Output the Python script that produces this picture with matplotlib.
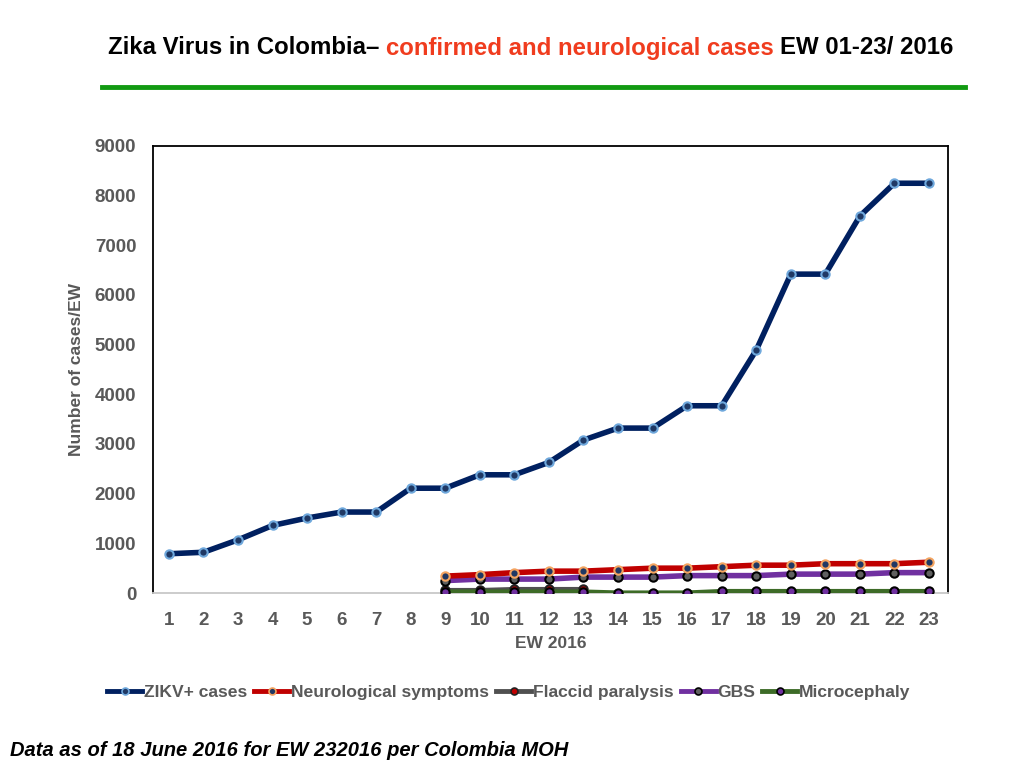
import matplotlib
matplotlib.use("Agg")
import matplotlib.pyplot as plt
from matplotlib.lines import Line2D

# semanas epidemiologicas
weeks = list(range(1, 24))
weeks_neuro = list(range(9, 24))
weeks_flaccid = list(range(9, 14))

zikv = [790, 820, 1070, 1360, 1510, 1630, 1630, 2110, 2110, 2380, 2380, 2630,
        3080, 3320, 3320, 3770, 3770, 4890, 6420, 6420, 7590, 8250, 8250]
neuro = [340, 370, 410, 440, 440, 470, 500, 500, 530, 560, 560, 590, 590, 590, 620]
gbs = [250, 280, 280, 280, 320, 320, 320, 350, 350, 350, 380, 380, 380, 410, 410]
flaccid = [60, 60, 80, 80, 80]
microcephaly = [30, 30, 30, 30, 30, 10, 10, 10, 40, 40, 40, 40, 40, 40, 40]

grey = '#595959'
plt.rcParams['font.family'] = ['Liberation Sans', 'DejaVu Sans']

fig = plt.figure(figsize=(10.24, 7.68), dpi=100)
ax = fig.add_axes([153 / 1024, 1 - 593 / 768, (948 - 153) / 1024, (593 - 146) / 768])

ax.plot(weeks_flaccid, flaccid, color='#505050', lw=3, marker='o', ms=6,
        mfc='#c00000', mec='#222222', mew=1.5, label='Flaccid paralysis', zorder=2)
ax.plot(weeks_neuro, microcephaly, color='#3d6b27', lw=3, marker='o', ms=6,
        mfc='#7030a0', mec='black', mew=1.5, label='Microcephaly', zorder=3)
ax.plot(weeks_neuro, gbs, color='#7030a0', lw=4, marker='o', ms=6,
        mfc='#606060', mec='black', mew=1.5, label='GBS', zorder=4)
ax.plot(weeks_neuro, neuro, color='#c00000', lw=4, marker='o', ms=6,
        mfc='#1f3864', mec='#f4a460', mew=1.5, label='Neurological symptoms', zorder=5)
ax.plot(weeks, zikv, color='#002060', lw=4, marker='o', ms=6,
        mfc='#1f3864', mec='#6fa8dc', mew=1.5, label='ZIKV+ cases', zorder=6)

ax.set_xlim(0.54, 23.55)
ax.set_ylim(0, 9000)
ax.set_xticks(weeks)
ax.set_yticks(range(0, 9001, 1000))
ax.tick_params(axis='y', length=0, labelsize=13.5, labelcolor=grey, pad=12)
ax.tick_params(axis='x', length=0, labelsize=13.5, labelcolor=grey, pad=14)
for lbl in ax.get_xticklabels() + ax.get_yticklabels():
    lbl.set_fontweight('bold')
for s in ['left', 'top', 'right']:
    ax.spines[s].set_color('black')
    ax.spines[s].set_linewidth(1.3)
ax.spines['bottom'].set_color('#c8c8c8')
ax.spines['bottom'].set_linewidth(1.3)

ax.set_xlabel('EW 2016', fontsize=12.5, color=grey, fontweight='bold', labelpad=5)
ax.set_ylabel('Number of cases/EW', fontsize=12.5, color=grey, fontweight='bold', labelpad=8)

# leyenda en el orden original
handles = []
legend_specs = [
    ('ZIKV+ cases', '#002060', '#1f3864', '#6fa8dc'),
    ('Neurological symptoms', '#c00000', '#1f3864', '#f4a460'),
    ('Flaccid paralysis', '#505050', '#c00000', '#222222'),
    ('GBS', '#7030a0', '#606060', 'black'),
    ('Microcephaly', '#3d6b27', '#7030a0', 'black'),
]
for name, lc, fc, ec in legend_specs:
    handles.append(Line2D([], [], color=lc, lw=3.5, marker='o', ms=5,
                          mfc=fc, mec=ec, mew=1.2, label=name))
fig.legend(handles=handles, loc='center', bbox_to_anchor=(509 / 1024, 1 - 692 / 768),
           ncol=5, frameon=False, handlelength=2.0, handletextpad=0.1,
           columnspacing=0.4, prop={'size': 12.6, 'weight': 'bold'},
           labelcolor=grey)

# titulo en tres partes
y_title = 1 - 48 / 768
tsize = 17.3
t1 = fig.text(108 / 1024, y_title, 'Zika Virus in Colombia\u2013 ', fontsize=tsize,
              fontweight='bold', color='black', va='center')
fig.canvas.draw()
bb = t1.get_window_extent()
t2 = fig.text(bb.x1 / 1024, y_title, 'confirmed and neurological cases ', fontsize=tsize,
              fontweight='bold', color='#f03c1e', va='center')
bb = t2.get_window_extent()
fig.text(bb.x1 / 1024, y_title, 'EW 01-23/ 2016', fontsize=tsize,
         fontweight='bold', color='black', va='center')

fig.add_artist(Line2D([102 / 1024, 965 / 1024], [1 - 87 / 768, 1 - 87 / 768],
                      color='#129a12', lw=3.5))

fig.text(10 / 1024, 1 - 750 / 768, 'Data as of 18 June 2016 for EW 232016 per Colombia MOH',
         fontsize=14.5, fontweight='bold', fontstyle='italic', color='black', va='center')

fig.savefig('out.png', dpi=100)
